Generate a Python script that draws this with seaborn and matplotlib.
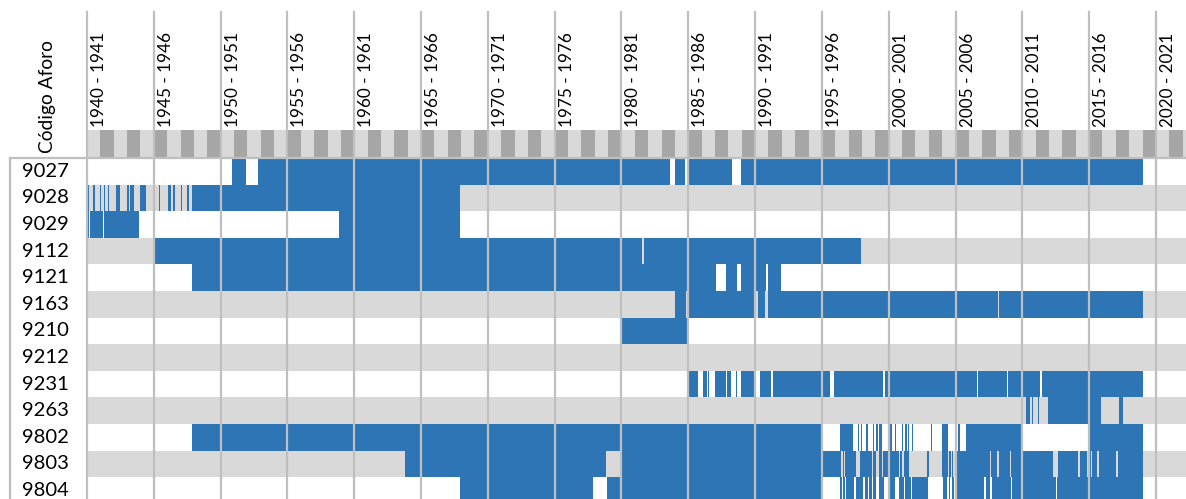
import numpy as np
import pandas as pd
import matplotlib
matplotlib.use("Agg")
import matplotlib.pyplot as plt
from matplotlib.colors import ListedColormap
from matplotlib.lines import Line2D
from matplotlib.transforms import blended_transform_factory
import seaborn as sns

# ---------------- data ----------------
stations = ["9027", "9028", "9029", "9112", "9121", "9163", "9210",
            "9212", "9231", "9263", "9802", "9803", "9804"]

# periods with data (decimal years)
p9027 = [(1950.83, 1951.88), (1952.87, 1983.70), (1984.00, 1984.79),
         (1985.05, 1988.27), (1988.94, 2019.00)]
p9028 = [(1940.00, 1940.15), (1940.40, 1940.60), (1941.03, 1941.12),
         (1941.27, 1941.37), (1941.59, 1941.67), (1942.17, 1942.52),
         (1942.97, 1943.17), (1943.29, 1943.46), (1943.97, 1944.42),
         (1945.39, 1945.54), (1946.08, 1946.26), (1946.41, 1946.59),
         (1946.96, 1947.11), (1947.51, 1947.63), (1947.86, 1967.91)]
p9029 = [(1940.00, 1940.15), (1940.22, 1940.30), (1940.37, 1941.17),
         (1941.27, 1943.89), (1958.86, 1967.91)]
p9112 = [(1945.00, 1981.53), (1981.68, 1997.92)]
p9121 = [(1947.86, 1987.12), (1987.87, 1988.70), (1988.94, 1990.87),
         (1990.99, 1991.94)]
p9163 = [(1984.00, 1984.82), (1984.92, 1990.12), (1990.29, 1990.74),
         (1991.04, 2008.15), (2008.25, 2019.00)]
p9210 = [(1980.00, 1984.92)]
p9212 = []
p9231 = [(1985.00, 1985.75), (1986.08, 1986.38), (1986.47, 1986.62),
         (1987.00, 1987.82), (1987.90, 1988.19), (1988.62, 1988.70),
         (1988.94, 1989.92), (1990.36, 1991.19), (1991.34, 1995.57),
         (1995.90, 1999.55), (1999.72, 2006.58), (2006.66, 2008.83),
         (2008.90, 2011.32), (2011.52, 2019.00)]
p9263 = [(2010.27, 2010.57), (2010.74, 2010.82), (2011.15, 2011.24),
         (2011.92, 2015.94), (2017.23, 2017.53)]
p9802 = [(1947.86, 1995.00), (1996.35, 1997.30), (1997.67, 1997.77),
         (1997.92, 1998.02), (1998.35, 1998.43), (1998.80, 1998.90),
         (1999.10, 1999.17), (1999.29, 1999.52), (2000.09, 2000.26),
         (2000.47, 2000.60), (2000.97, 2001.09), (2001.27, 2001.34),
         (2001.39, 2001.46), (2001.72, 2001.84), (2003.16, 2003.26),
         (2003.96, 2004.41), (2005.20, 2005.33), (2005.46, 2005.53),
         (2005.71, 2009.90), (2014.93, 2019.00)]
p9803 = [(1963.87, 1978.84), (1980.01, 1996.40), (1996.57, 1996.65),
         (1996.78, 1997.60), (1997.85, 1998.77), (1998.84, 1999.10),
         (1999.22, 1999.47), (1999.59, 2000.71), (2000.84, 2001.04),
         (2001.14, 2001.46), (2002.84, 2003.03), (2004.04, 2004.41),
         (2004.53, 2004.64), (2004.71, 2004.83), (2004.96, 2007.58),
         (2007.70, 2008.08), (2008.25, 2009.07), (2009.20, 2012.32),
         (2012.39, 2012.44), (2012.69, 2014.18), (2014.31, 2014.81),
         (2014.93, 2015.18), (2015.26, 2015.56), (2015.73, 2017.01),
         (2017.18, 2019.00)]
p9804 = [(1967.91, 1977.85), (1978.94, 1995.00), (1996.35, 1996.48),
         (1996.60, 1996.73), (1996.85, 1997.42), (1997.60, 1998.09),
         (1998.22, 1998.39), (1998.54, 1998.72), (1998.84, 1999.10),
         (1999.29, 1999.64), (2000.09, 2000.54), (2000.71, 2000.97),
         (2001.04, 2001.14), (2001.29, 2001.67), (2001.79, 2002.71),
         (2002.79, 2002.89), (2004.08, 2004.34), (2004.46, 2004.58),
         (2004.76, 2004.91), (2004.96, 2007.20), (2007.28, 2007.58),
         (2007.75, 2009.20), (2009.27, 2012.49), (2012.57, 2019.00)]

label_years = [1940, 1945, 1950, 1955, 1960, 1965, 1970, 1975, 1980,
               1985, 1990, 1995, 2000, 2005, 2010, 2015, 2020]
year_labels = ["1940 - 1941", "1945 - 1946", "1950 - 1951", "1955 - 1956",
               "1960 - 1961", "1965 - 1966", "1970 - 1971", "1975 - 1976",
               "1980 - 1981", "1985 - 1986", "1990 - 1991", "1995 - 1996",
               "2000 - 2001", "2005 - 2006", "2010 - 2011", "2015 - 2016",
               "2020 - 2021"]
y_title = "Código Aforo"
year0, year1 = 1940, 2022.25

# ---------------- build month table ----------------
periods = [p9027, p9028, p9029, p9112, p9121, p9163, p9210,
           p9212, p9231, p9263, p9802, p9803, p9804]
ncol = int(round((year1 - year0) * 12))
mat = np.zeros((len(stations), ncol))
for i, per in enumerate(periods):
    mat[i, :] = i % 2  # alternating background: 0 white, 1 grey
    for s, e in per:
        a = int(round((s - year0) * 12))
        b = int(round((e - year0) * 12))
        mat[i, a:b] = 2
df = pd.DataFrame(mat, index=stations)

# header strip (alternating years)
strip_years = np.arange(1940, 2023)
strip = pd.DataFrame([(strip_years % 2).astype(float)])

# ---------------- figure ----------------
plt.rcParams['font.family'] = ['Lato', 'DejaVu Sans']
W, H = 1186, 499
fig = plt.figure(figsize=(W / 100, H / 100), dpi=100)

def fx(px):
    return px / W

def fy(py):
    return 1 - py / H

GRID = "#bfbfbf"
BLUE = "#2e75b6"
LGREY = "#d9d9d9"
DGREY = "#a6a6a6"

left = 87
top_main = 158
row_h = 26.6
bot_main = top_main + row_h * len(stations)

# header strip axes
hax = fig.add_axes([fx(left), fy(157), 1 - fx(left), 27 / H])
sns.heatmap(strip, ax=hax, cmap=ListedColormap([LGREY, DGREY]), vmin=-0.5,
            vmax=1.5, cbar=False, xticklabels=False, yticklabels=False)
hax.set_xlim(0, year1 - year0)
hax.set_axis_off()

# main heatmap axes
ax = fig.add_axes([fx(left), fy(bot_main), 1 - fx(left),
                   (bot_main - top_main) / H])
sns.heatmap(df, ax=ax, cmap=ListedColormap(["#ffffff", LGREY, BLUE]),
            vmin=-0.5, vmax=2.5, cbar=False, xticklabels=False,
            yticklabels=stations, linewidths=0, rasterized=True)
ax.set_xlim(0, ncol)
ax.set_ylabel("")
ax.set_yticklabels(stations, rotation=0, fontsize=14.6, color="#000000")
ax.tick_params(axis="y", length=0, pad=13)
ax.tick_params(axis="x", length=0)

# vertical gridlines extending up through header
ext = 1 + (top_main - 12) / (bot_main - top_main)
trans = blended_transform_factory(ax.transData, fig.transFigure)
for yr, lab in zip(label_years, year_labels):
    xm = (yr - year0) * 12
    ax.axvline(xm, ymin=0, ymax=ext, color=GRID, lw=1.6, clip_on=False,
               zorder=5)
    ax.text(xm + 10.8, fy(127), lab, rotation=90, ha="center", va="bottom",
            fontsize=12.3, color="#000000", transform=trans, clip_on=False)

# border lines of the label column
fig.add_artist(Line2D([fx(10), fx(10)], [fy(top_main), 0], color=GRID,
                      lw=1.6, zorder=6))
fig.add_artist(Line2D([fx(10), 1], [fy(top_main), fy(top_main)], color=GRID,
                      lw=1.6, zorder=6))

fig.text(fx(47), fy(97), y_title, rotation=90, ha="center", va="center",
         fontsize=13.8, color="#000000")

fig.savefig("out.png", dpi=100)
